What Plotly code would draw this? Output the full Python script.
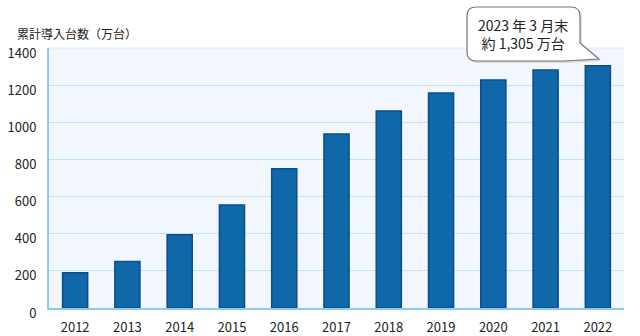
import plotly.graph_objects as go

years = ["2012","2013","2014","2015","2016","2017","2018","2019","2020","2021","2022"]
values = [190, 250, 395, 555, 750, 937, 1061, 1158, 1228, 1282, 1305]
y_ticks = [0, 200, 400, 600, 800, 1000, 1200, 1400]
y_title = "累計導入台数（万台）"
callout_lines = ["2023 年 3 月末", "約 1,305 万台"]

W, H = 640, 336
L, R, T, B = 49, 16, 48, 28
PW, PH = W - L - R, H - T - B

def px(x):
    return (x - L) / PW

def py(y):
    return (H - B - y) / PH

def pt(x, y):
    return f"{px(x):.5f},{py(y):.5f}"

font = "Noto Sans CJK JP, Noto Sans, sans-serif"

fig = go.Figure()
fig.add_trace(go.Bar(
    x=years, y=values, width=0.48,
    marker=dict(color="#1168a8", line=dict(color="#0b4d8c", width=1.5)),
))

# callout box path (pixel positions -> paper)
x0, x1, y0, y1, r = 467, 580, 7, 61, 9
path = (f"M {pt(x0+r,y0)} L {pt(x1-r,y0)} Q {pt(x1,y0)} {pt(x1,y0+r)} "
        f"L {pt(x1,y1-18)} L {pt(599,59)} L {pt(x1-16,y1)} "
        f"L {pt(x0+r,y1)} Q {pt(x0,y1)} {pt(x0,y1-r)} L {pt(x0,y0+r)} Q {pt(x0,y0)} {pt(x0+r,y0)} Z")
shadow = (f"M {pt(x0+r+2,y0+2)} L {pt(x1-r+2,y0+2)} Q {pt(x1+2,y0+2)} {pt(x1+2,y0+r+2)} "
          f"L {pt(x1+2,y1-16)} L {pt(601,61)} L {pt(x1-14,y1+2)} "
          f"L {pt(x0+r+2,y1+2)} Q {pt(x0+2,y1+2)} {pt(x0+2,y1-r+2)} L {pt(x0+2,y0+r+2)} Q {pt(x0+2,y0+2)} {pt(x0+r+2,y0+2)} Z")

fig.update_layout(
    width=W, height=H,
    margin=dict(l=L, r=R, t=T, b=B, autoexpand=False),
    paper_bgcolor="white",
    plot_bgcolor="#f2f7fd",
    showlegend=False,
    font=dict(family=font, size=12, color="#222222"),
    xaxis=dict(
        type="category", range=[-0.5, 10.5], automargin=False,
        showgrid=False, showline=True, linecolor="#8ccbea", linewidth=2,
        ticks="", tickfont=dict(size=13, color="#222"), ticklabelstandoff=6,
    ),
    yaxis=dict(
        range=[0, 1400], tickvals=y_ticks, ticktext=[str(v) for v in y_ticks],
        automargin=False,
        showgrid=True, gridcolor="#bfe3f5", gridwidth=1,
        showline=True, linecolor="#8ccbea", linewidth=2,
        zeroline=False, ticks="", ticklabelstandoff=8, ticklabelshift=5,
        tickfont=dict(size=13, color="#222"),
    ),
    shapes=[
        dict(type="line", xref="paper", yref="paper", x0=0, x1=1, y0=1, y1=1,
             line=dict(color="#d6edf9", width=1), layer="below"),
        dict(type="path", xref="paper", yref="paper", path=shadow,
             fillcolor="rgba(0,0,0,0.12)", line=dict(width=0)),
        dict(type="path", xref="paper", yref="paper", path=path,
             fillcolor="white", line=dict(color="#777777", width=1.2)),
    ],
    annotations=[
        dict(text=y_title, xref="paper", yref="paper", x=px(15), y=py(33),
             xanchor="left", yanchor="middle", showarrow=False,
             font=dict(size=12, color="#222")),
        dict(text="<br>".join(callout_lines), xref="paper", yref="paper",
             x=px(523), y=py(34), xanchor="center", yanchor="middle",
             showarrow=False, align="center",
             font=dict(size=14, color="#222")),
    ],
)

fig.write_html("out.html")
